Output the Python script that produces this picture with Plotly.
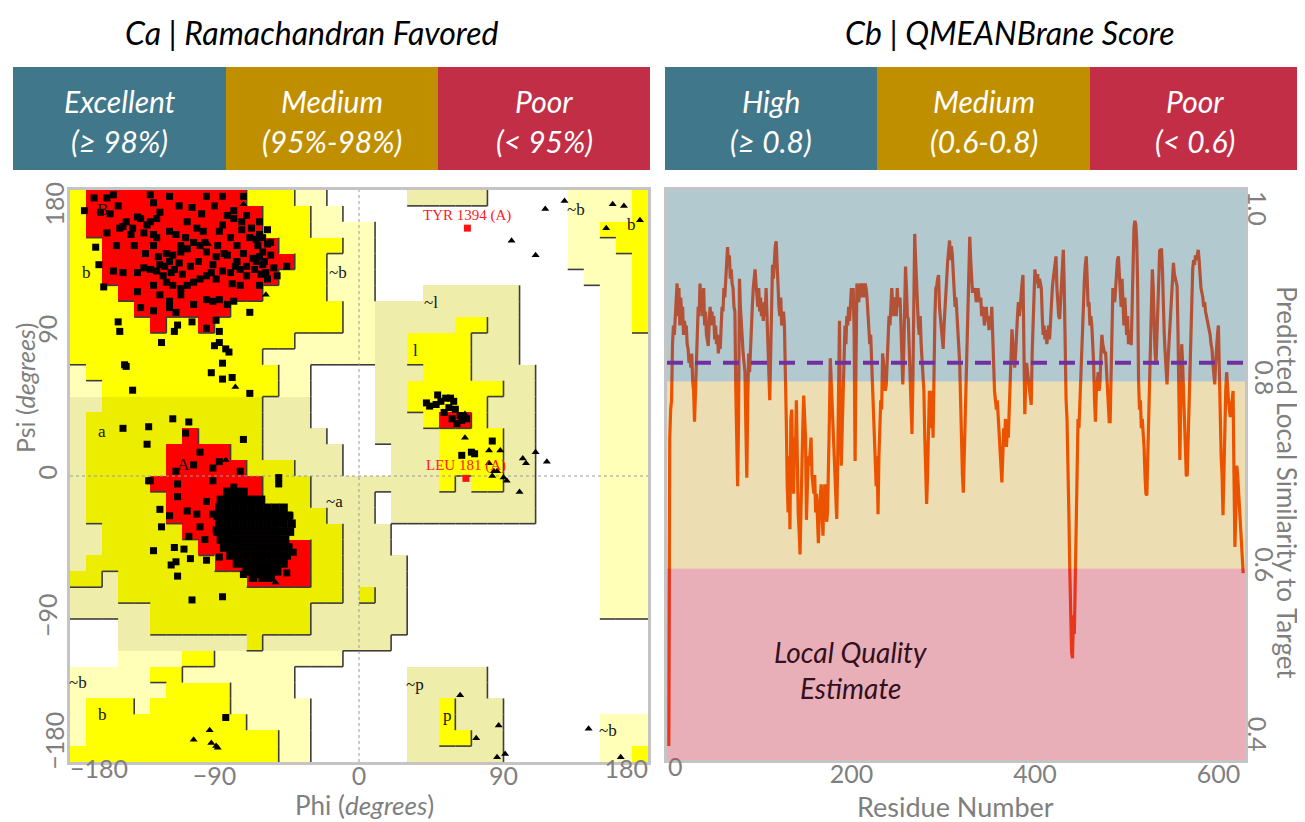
import plotly.graph_objects as go

OFF = 8                      # page body margin of the html output
W, H = 1305 - OFF, 822 - OFF

# ---------------- Panel Ca : Ramachandran plot ----------------
# 10-degree region grid; rows psi 180 -> -180, columns phi -180 -> 180
# '.' disallowed  'p' generous (~b)  'k' generous (~a ~l ~p)  'Y' allowed (b l p)  'y' allowed (a)  'R' core
rama_regions = [
    "YRRRRRRRRRRYYYpp.....kkkkk.....ppppY",
    "YRRRRRRRRRRRYYYpp..............ppppY",
    "YRRRRRRRRRRRYYYpppp............ppYYY",
    "YYRRRRRRRRRRRYYYYpp............pppYY",
    "YYRRRRRRRRRRRRYYppp............ppppY",
    "YYRRRRRRRRRRRYYYppp.............pppY",
    "YYYRRRRRRRRRYYYYppp...kkkkkk.....ppY",
    "YYYYRRRRRRYYYYYYYppkkkkkkkkk.....ppY",
    "YYYYYRYYRYYYYYYYYppkkkkkYYkk.....ppY",
    "YYYYYYYYYYYYYYpppppkkYYYYkkk.....ppp",
    "YYYYYYYYYYYYpppppppkkYYYYkkk.....ppp",
    "pYYYYYYYYYYYYpp....kkkYYYkkkk....ppp",
    "ppYYYYYYYYYYYpp....kkYYYYYYkk....ppp",
    "kkyyyyyyyyyykkk....kkYYYYYkkk....ppp",
    "kyyyyyyyyyyykkk....kkkYRRYkkk....ppp",
    "kyyyyyyRyyyykkkk...kkkkYYYYkk....ppp",
    "kyyyyyRRRRyykkkkk...kkkYYYYkk....ppp",
    "kyyyyyRRRRRyyykkk...kkkYYYYkk....ppp",
    "kyyyyRRRRRRRyyykkkkkkkkYkYYkk....ppp",
    "kyyyyyRRRRRRyyykkkk.kkkkkkkkk....ppp",
    "kyyyyyRRRRRRRyyykkk.kkkkkkkkk....ppp",
    "kkyyyyyRRRRRRyyyykkk.............ppp",
    "kkyyyyyyRRRRRRRyykkk.............ppp",
    "kyyyyyyyyRRRRRRyykkkk............ppp",
    "yykyyyyyyyyRRRRyykkkk............ppp",
    "kkkyyyyyyyyyyyyyykykk............ppp",
    "kkkkkyyyyyyyyyykkkkkk............ppp",
    "...kkyyyyyyyyyykkkkkk...............",
    "...kkkkkkkkykkkkkkkk................",
    "...ppppYYpppppppp...................",
    "pppppYYppppppp.......kkkkk..........",
    "ppppppYYYYpppp.......kkkkk..........",
    "pYYYpYYYYYppppp......kkYkkk.........",
    "pYYYYYYYYYYpppp......kkYkkk......ppp",
    "pYYYYYYYYYYYYpp......kkYYkk......ppp",
    "YYYYYYYYYYYYYpp......kkkkkk......ppY",
]
region_colors = {".": "#FFFFFF", "p": "#FFFFB8", "k": "#EFEDAA", "Y": "#FFFF00", "y": "#EDED00", "R": "#FF0000"}
region_rank = {".": 0, "p": 1, "k": 1, "Y": 2, "y": 2, "R": 3}

# residues (phi, psi) - non-glycine squares
b_region_pts = [
    (-157,175),(-153,177),(-130,177),(-128,172),(-118,176),(-95,176),(-85,176),(-72,176),(-104,169),(-78,167),
    (-171,167),(-161,166),(-155,165),(-138,163),(-136,162),(-126,162),(-124,166),(-132,158),(-130,160),(-147,157),
    (-149,156),(-141,156),(-142,152),(-134,153),(-128,152),(-126,150),(-118,154),(-114,152),(-111,145),(-101,156),
    (-97,154),(-87,154),(-85,158),(-82,164),(-78,162),(-73,160),(-70,164),(-62,160),(-57,155),(-62,152),
    (-60,150),(-64,149),(-57,146),(-60,141),(-55,139),(-62,138),(-64,135),(-60,133),(-53,131),(-45,132),
    (-51,126),(-57,124),(-62,120),(-70,126),(-74,130),(-76,135),(-82,139),(-89,138),(-91,133),(-95,141),
    (-99,145),(-103,147),(-107,143),(-111,141),(-116,139),(-118,135),(-124,133),(-126,129),(-130,130),(-134,131),
    (-138,128),(-122,126),(-120,122),(-116,120),(-111,118),(-107,120),(-103,122),(-99,124),(-95,126),(-89,124),
    (-85,129),(-79,121),(-74,120),(-111,114),(-118,110),(-124,114),(-128,120),(-136,106),(-128,104),(-118,106),
    (-114,103),(-103,108),(-95,111),(-91,110),(-87,111),(-82,108),(-78,110),(-68,103),(-138,116),(-153,129),
    (-147,128),(-151,145),(-164,144),(-162,133),(-159,119),(-157,153),(-150,97),(-149,91),(-123,84),(-113,95),
    (-115,91),(-104,97),(-95,93),(-89,98),(-87,91),(-90,82),(-87,84),(-83,80),(-81,78),(-85,71),
    (-92,65),(-85,61),(-79,62),(-68,52),(-141,54),(-146,70),(-145,69),
    (-115,130),(-110,127),(-105,132),(-100,135),(-120,140),(-108,150),(-96,147),(-92,128),(-88,145),(-84,140),
    (-80,150),(-76,145),(-72,140),(-68,150),(-66,137),(-65,130),(-63,145),(-67,156),(-58,128),(-55,147),
    (-59,135),(-61,127),(-70,132),(-73,155),(-80,128),(-77,132),(-112,134),(-117,128),(-121,132),(-125,138),
    (-128,145),(-133,140),(-140,145),(-145,160),(-150,170),(-165,175),(-107,160),(-98,165),(-90,170),(-112,170),
]
a_region_pts = [
    (-147,30),(-131,31),(-132,20),(-116,36),(-106,34),(-108,27),(-72,23),(-87,9),(-99,15),(-103,7),
    (-114,3),(-91,5),(-74,3),(-50,-1),(-131,-3),
    (-124,-21),(-118,-25),(-123,-32),(-113,-13),(-107,-22),(-101,-24),(-95,-16),(-91,-24),(-96,-40),(-106,-38),
    (-115,-45),(-128,-47),(-109,-46),(-105,-52),(-114,-54),(-117,-56),(-113,-63),(-104,-78),(-85,-76),(-95,-53),
    (-87,-51),(-72,-62),(-62,-62),(-45,-61),(-43,-25),(-41,-48),(-49,-29),(-91,-3),(-82,-11),(-78,-7),
    (-74,-15),(-130,-3),(-113,-5),(-99,-32),(-89,-34),(-82,-36),(-78,-41),(-70,-45),(-62,-51),(-53,-49),
    (-50,-5),(-83,-152),
]
helix_core_pts = [
    (-82,-10),(-77,-10),(-72,-10),
    (-86,-15),(-81,-15),(-76,-15),(-71,-15),(-66,-15),(-61,-15),
    (-87,-20),(-82,-20),(-77,-20),(-72,-20),(-67,-20),(-62,-20),(-57,-20),(-52,-20),(-47,-20),
    (-88,-25),(-83,-25),(-78,-25),(-73,-25),(-68,-25),(-63,-25),(-58,-25),(-53,-25),(-48,-25),(-44,-25),
    (-87,-30),(-82,-30),(-77,-30),(-72,-30),(-67,-30),(-62,-30),(-57,-30),(-52,-30),(-47,-30),(-42,-30),
    (-88,-35),(-83,-35),(-78,-35),(-73,-35),(-68,-35),(-63,-35),(-58,-35),(-53,-35),(-48,-35),(-43,-35),
    (-86,-40),(-81,-40),(-76,-40),(-71,-40),(-66,-40),(-61,-40),(-56,-40),(-51,-40),(-46,-40),
    (-84,-45),(-79,-45),(-74,-45),(-69,-45),(-64,-45),(-59,-45),(-54,-45),(-49,-45),(-44,-45),
    (-80,-50),(-75,-50),(-70,-50),(-65,-50),(-60,-50),(-55,-50),(-50,-50),(-45,-50),
    (-76,-55),(-71,-55),(-66,-55),(-61,-55),(-56,-55),(-51,-55),(-47,-55),
    (-70,-60),(-65,-60),(-60,-60),(-55,-60),(-51,-60),
    (-66,-64),(-60,-64),(-55,-64),
]
l_region_pts = [
    (42,46),(44,44),(49,51),(51,47),(54,49),(57,49),(59,47),(56,43),(60,42),(63,38),
    (67,36),(61,33),(48,45),(53,40),(58,36),(64,35),(83,22),(64,13),(70,15),(72,14),
]
glycine_pts = [
    (-72,171),(-94,146),(-58,114),(-77,56),(-83,10),(-52,-67),(-93,-160),(-103,-166),(-92,-168),(-89,-170),(-88,-171),
    (66,39),(66,24),(81,16),(88,16),(81,8),(84,3),(86,3),(83,0),(90,-1),(92,-3),(102,11),(104,8),(110,15),(117,9),
    (116,168),(128,173),(95,148),(110,139),(154,156),(158,171),(165,170),(175,161),
    (100,-10),(63,-138),(87,-157),(73,-165),(86,-177),(91,-175),(143,-159),(163,-177),
]
flagged_names = ["TYR 1394 (A)", "LEU 181 (A)"]
flagged_phi = [67.5, 66.6]
flagged_psi = [156, -1.5]

region_label_text = ["B", "b", "~b", "a", "A", "~a", "~b", "b", "~l", "l", "~b", "b", "~p", "p", "~b"]
region_label_phi = [-160, -170, -13, -160, -109, -15, -175, -160, 45, 35, 135, 170, 35, 55, 155]
region_label_psi = [168, 128, 128, 28, 7, -16, -130, -150, 109, 79, 168, 158, -131, -151, -160]
rama_ticks = [-180, -90, 0, 90, 180]

# ---------------- Panel Cb : QMEANBrane local quality ----------------
score = [
    0.41, 0.74, 0.77, 0.78, 0.84, 0.86, 0.85, 0.87, 0.88, 0.905,
    0.87, 0.90, 0.86, 0.89, 0.87, 0.88, 0.85, 0.865, 0.855, 0.86,
    0.84, 0.835, 0.82, 0.825, 0.815, 0.83, 0.80, 0.79, 0.757, 0.79,
    0.84, 0.86, 0.88, 0.87, 0.905, 0.88, 0.89, 0.87, 0.90, 0.86,
    0.875, 0.85, 0.84, 0.838, 0.865, 0.88, 0.86, 0.875, 0.86, 0.87,
    0.845, 0.86, 0.84, 0.85, 0.83, 0.845, 0.835, 0.86, 0.88, 0.875,
    0.90, 0.89, 0.915, 0.92, 0.944, 0.925, 0.935, 0.91, 0.92, 0.905,
    0.90, 0.88, 0.875, 0.79, 0.72, 0.688, 0.76, 0.91, 0.88, 0.86,
    0.85, 0.83, 0.82, 0.81, 0.75, 0.697, 0.78, 0.83, 0.81, 0.84,
    0.86, 0.88, 0.90, 0.91, 0.92, 0.905, 0.89, 0.88, 0.90, 0.875,
    0.89, 0.87, 0.88, 0.865, 0.885, 0.87, 0.90, 0.87, 0.845, 0.82,
    0.78, 0.83, 0.88, 0.925, 0.91, 0.93, 0.945, 0.95, 0.92, 0.90,
    0.88, 0.87, 0.89, 0.86, 0.87, 0.875, 0.86, 0.82, 0.76, 0.69,
    0.66, 0.72, 0.642, 0.76, 0.77, 0.70, 0.68, 0.74, 0.72, 0.78,
    0.70, 0.66, 0.64, 0.615, 0.66, 0.72, 0.75, 0.785, 0.76, 0.74,
    0.652, 0.70, 0.72, 0.71, 0.73, 0.74, 0.70, 0.69, 0.68, 0.70,
    0.66, 0.68, 0.65, 0.627, 0.66, 0.68, 0.69, 0.66, 0.635, 0.68,
    0.69, 0.67, 0.65, 0.66, 0.70, 0.76, 0.825, 0.80, 0.77, 0.76,
    0.73, 0.71, 0.68, 0.653, 0.71, 0.78, 0.865, 0.75, 0.71, 0.75,
    0.80, 0.83, 0.86, 0.84, 0.87, 0.86, 0.88, 0.865, 0.89, 0.90,
    0.88, 0.90, 0.85, 0.715, 0.82, 0.905, 0.89, 0.885, 0.90, 0.905,
    0.89, 0.905, 0.90, 0.89, 0.905, 0.90, 0.89, 0.87, 0.86, 0.84,
    0.85, 0.82, 0.80, 0.78, 0.74, 0.71, 0.688, 0.72, 0.658, 0.72,
    0.77, 0.78, 0.77, 0.83, 0.82, 0.80, 0.79, 0.797, 0.82, 0.85,
    0.87, 0.86, 0.88, 0.90, 0.88, 0.87, 0.885, 0.89, 0.87, 0.90,
    0.88, 0.885, 0.89, 0.86, 0.82, 0.797, 0.83, 0.88, 0.923, 0.90,
    0.87, 0.867, 0.83, 0.79, 0.77, 0.744, 0.80, 0.90, 0.958, 0.93,
    0.90, 0.87, 0.86, 0.85, 0.87, 0.84, 0.82, 0.815, 0.79, 0.74,
    0.69, 0.669, 0.70, 0.76, 0.79, 0.75, 0.77, 0.79, 0.74, 0.82,
    0.87, 0.90, 0.902, 0.91, 0.914, 0.88, 0.867, 0.85, 0.84, 0.835,
    0.86, 0.88, 0.90, 0.91, 0.93, 0.94, 0.951, 0.93, 0.945, 0.935,
    0.92, 0.90, 0.88, 0.89, 0.87, 0.86, 0.84, 0.82, 0.78, 0.72,
    0.70, 0.681, 0.72, 0.78, 0.80, 0.85, 0.90, 0.93, 0.955, 0.93,
    0.91, 0.895, 0.90, 0.895, 0.90, 0.885, 0.89, 0.90, 0.89, 0.885,
    0.89, 0.87, 0.88, 0.875, 0.86, 0.87, 0.88, 0.865, 0.87, 0.855,
    0.87, 0.86, 0.88, 0.85, 0.80, 0.79, 0.78, 0.77, 0.78, 0.76,
    0.75, 0.73, 0.70, 0.692, 0.72, 0.75, 0.74, 0.76, 0.73, 0.75,
    0.74, 0.77, 0.80, 0.84, 0.856, 0.84, 0.83, 0.815, 0.83, 0.86,
    0.87, 0.885, 0.87, 0.88, 0.90, 0.905, 0.914, 0.84, 0.765, 0.80,
    0.82, 0.81, 0.80, 0.79, 0.785, 0.775, 0.83, 0.87, 0.90, 0.92,
    0.91, 0.905, 0.915, 0.90, 0.91, 0.905, 0.90, 0.87, 0.85, 0.86,
    0.845, 0.855, 0.84, 0.85, 0.86, 0.845, 0.87, 0.89, 0.90, 0.91,
    0.92, 0.925, 0.934, 0.90, 0.88, 0.87, 0.867, 0.89, 0.91, 0.93,
    0.941, 0.90, 0.83, 0.78, 0.76, 0.72, 0.66, 0.60, 0.55, 0.51,
    0.504, 0.55, 0.53, 0.58, 0.66, 0.72, 0.76, 0.75, 0.78, 0.81,
    0.84, 0.867, 0.89, 0.91, 0.925, 0.934, 0.91, 0.88, 0.885, 0.86,
    0.87, 0.86, 0.84, 0.82, 0.78, 0.757, 0.79, 0.80, 0.81, 0.79,
    0.80, 0.83, 0.85, 0.84, 0.835, 0.83, 0.832, 0.81, 0.79, 0.77,
    0.757, 0.757, 0.82, 0.87, 0.90, 0.89, 0.885, 0.90, 0.92, 0.93,
    0.934, 0.92, 0.90, 0.88, 0.91, 0.87, 0.86, 0.89, 0.86, 0.85,
    0.87, 0.84, 0.855, 0.85, 0.839, 0.88, 0.93, 0.965, 0.972, 0.968,
    0.95, 0.90, 0.80, 0.77, 0.78, 0.75, 0.76, 0.744, 0.73, 0.70,
    0.68, 0.678, 0.72, 0.75, 0.779, 0.83, 0.88, 0.92, 0.90, 0.86,
    0.83, 0.818, 0.85, 0.89, 0.92, 0.94, 0.941, 0.941, 0.92, 0.867,
    0.85, 0.83, 0.81, 0.797, 0.82, 0.84, 0.85, 0.88, 0.90, 0.92,
    0.927, 0.915, 0.91, 0.905, 0.902, 0.85, 0.78, 0.716, 0.78, 0.84,
    0.82, 0.79, 0.76, 0.73, 0.70, 0.699, 0.74, 0.77, 0.797, 0.85,
    0.90, 0.92, 0.93, 0.925, 0.935, 0.93, 0.935, 0.941, 0.93, 0.91,
    0.90, 0.895, 0.89, 0.88, 0.885, 0.875, 0.87, 0.865, 0.86, 0.855,
    0.85, 0.84, 0.835, 0.82, 0.81, 0.797, 0.82, 0.84, 0.85, 0.86,
    0.80, 0.75, 0.72, 0.70, 0.657, 0.70, 0.76, 0.79, 0.81, 0.79,
    0.78, 0.77, 0.762, 0.77, 0.78, 0.79, 0.70, 0.623, 0.66, 0.71,
    0.70, 0.68, 0.66, 0.65, 0.63, 0.61, 0.595,
]
residue = list(range(1, len(score) + 1))
global_score = 0.82
band_limits = [0.6, 0.8]  # poor < 0.6 <= medium < 0.8 <= high
residue_ticks = [0, 200, 400, 600]
score_ticks = [0.4, 0.6, 0.8, 1.0]

# ---------------- header bands ----------------
panel_titles = ["Ca | Ramachandran Favored", "Cb | QMEANBrane Score"]
rama_classes = [("Excellent", "(≥ 98%)"), ("Medium", "(95%-98%)"), ("Poor", "(&lt; 95%)")]
qmean_classes = [("High", "(≥ 0.8)"), ("Medium", "(0.6-0.8)"), ("Poor", "(&lt; 0.6)")]
class_colors = ["#41778A", "#BF8F00", "#C22E46"]

FONT = "Lato, 'Open Sans', sans-serif"
GREY = "#7F7F7F"


def fx(px):
    return (px - OFF) / W


def fy(py):
    return 1 - (py - OFF) / H


def note(x, y, text, size, color, family=FONT, angle=0, xref="paper", yref="paper"):
    return dict(x=x, y=y, xref=xref, yref=yref, text=text, showarrow=False, textangle=angle,
                xanchor="center", yanchor="middle", font=dict(family=family, size=size, color=color))


fig = go.Figure()

# Ramachandran regions
code = {".": 0, "p": 1, "k": 2, "Y": 3, "y": 4, "R": 5}
order = [".", "p", "k", "Y", "y", "R"]
cs = []
for i, ch in enumerate(order):
    cs.append([i / 6, region_colors[ch]])
    cs.append([(i + 1) / 6, region_colors[ch]])
grid = [row[:36].ljust(36, ".") for row in rama_regions]
fig.add_trace(go.Heatmap(
    x=[-175 + 10 * c for c in range(36)], y=[175 - 10 * r for r in range(36)],
    z=[[code[ch] for ch in row] for row in grid],
    colorscale=cs, zmin=-0.5, zmax=5.5, showscale=False, hoverinfo="skip",
    xaxis="x", yaxis="y"))

# region borders (drawn on right / lower edge of the higher-ranked region)
bx, by = [], []
for r in range(36):
    for c in range(35):
        if region_rank[grid[r][c]] > region_rank[grid[r][c + 1]]:
            xv = -180 + 10 * (c + 1)
            bx += [xv, xv, None]
            by += [180 - 10 * r, 170 - 10 * r, None]
for r in range(35):
    for c in range(36):
        if region_rank[grid[r][c]] > region_rank[grid[r + 1][c]]:
            yv = 170 - 10 * r
            bx += [-180 + 10 * c, -170 + 10 * c, None]
            by += [yv, yv, None]
fig.add_trace(go.Scatter(x=bx, y=by, mode="lines", line=dict(color="#3C3C3C", width=1.6),
                         hoverinfo="skip", xaxis="x", yaxis="y"))

# dotted zero lines
fig.add_trace(go.Scatter(x=[0, 0, None, -180, 180], y=[-180, 180, None, 0, 0], mode="lines",
                         line=dict(color="#9A9A9A", width=1, dash="dot"), hoverinfo="skip",
                         xaxis="x", yaxis="y"))

sq = b_region_pts + a_region_pts + l_region_pts
fig.add_trace(go.Scatter(x=[p[0] for p in sq], y=[p[1] for p in sq], mode="markers",
                         marker=dict(symbol="square", size=7, color="black"), xaxis="x", yaxis="y"))
fig.add_trace(go.Scatter(x=[p[0] for p in helix_core_pts], y=[p[1] for p in helix_core_pts], mode="markers",
                         marker=dict(symbol="square", size=8.5, color="black"), xaxis="x", yaxis="y"))
fig.add_trace(go.Scatter(x=[p[0] for p in glycine_pts], y=[p[1] for p in glycine_pts], mode="markers",
                         marker=dict(symbol="triangle-up", size=7, color="black"), xaxis="x", yaxis="y"))
fig.add_trace(go.Scatter(x=flagged_phi, y=flagged_psi, mode="markers",
                         marker=dict(symbol="square", size=7, color="#FF1010"), xaxis="x", yaxis="y"))

# QMEAN line
fig.add_trace(go.Scatter(x=residue, y=score, mode="lines", line=dict(color="#FF3A00", width=3.2),
                         xaxis="x2", yaxis="y2"))

# empty traces so the end-tick label axes are drawn
for xa, ya in [("x3", "y"), ("x4", "y"), ("x", "y3"), ("x", "y4"), ("x5", "y2"), ("x2", "y5"), ("x2", "y6")]:
    fig.add_trace(go.Scatter(x=[], y=[], xaxis=xa, yaxis=ya, hoverinfo="skip"))

annotations = []
shapes = []

# region labels
for t, px_, py_ in zip(region_label_text, region_label_phi, region_label_psi):
    annotations.append(note(px_, py_, t, 17, "#151515", family="Liberation Serif", xref="x", yref="y"))
for name, px_, py_ in zip(flagged_names, flagged_phi, flagged_psi):
    annotations.append(note(px_, py_ + 8, name, 15, "#FF2020", family="Liberation Serif", xref="x", yref="y"))

# QMEAN bands (semi-transparent, over the line)
y2min, y2max = 0.395, 1.005
for (lo, hi), col, op in zip([(y2min, band_limits[0]), (band_limits[0], band_limits[1]), (band_limits[1], y2max)],
                             [class_colors[2], class_colors[1], class_colors[0]], [0.38, 0.3, 0.4]):
    shapes.append(dict(type="rect", xref="x2 domain", yref="y2", x0=0, x1=1, y0=lo, y1=hi,
                       fillcolor=col, opacity=op, line=dict(width=0), layer="above"))
shapes.append(dict(type="line", xref="x2 domain", yref="y2", x0=0, x1=1, y0=global_score, y1=global_score,
                   line=dict(color="#7030A0", width=4, dash="16px,12px"), layer="above"))
annotations.append(note(fx(850), fy(652), "<i>Local Quality</i>", 28, "#33101C"))
annotations.append(note(fx(850), fy(688), "<i>Estimate</i>", 28, "#33101C"))

# header titles and class boxes
for title, cx in zip(panel_titles, [312, 1010]):
    annotations.append(note(fx(cx), fy(32), "<i>" + title + "</i>", 32, "black"))
for edges, classes in [([13, 226, 438, 650], rama_classes), ([665, 877, 1090, 1300], qmean_classes)]:
    for i, (l1, l2) in enumerate(classes):
        shapes.append(dict(type="rect", xref="paper", yref="paper", x0=fx(edges[i]), x1=fx(edges[i + 1]),
                           y0=fy(170), y1=fy(67), fillcolor=class_colors[i], line=dict(width=0)))
        cx = (edges[i] + edges[i + 1]) / 2
        annotations.append(note(fx(cx), fy(101), "<i>" + l1 + "</i>", 30, "white"))
        annotations.append(note(fx(cx), fy(141), "<i>" + l2 + "</i>", 30, "white"))

# axis titles
annotations.append(note(fx(364), fy(805), "Phi (<i>degrees</i>)", 26, GREY))
annotations.append(note(fx(25), fy(388), "Psi (<i>degrees</i>)", 25, GREY, angle=-90))
annotations.append(note(fx(955), fy(806), "Residue Number", 27, GREY))
annotations.append(note(fx(1287), fy(482), "Predicted Local Similarity to Target", 26, GREY, angle=90))

base = dict(showgrid=False, zeroline=False, ticks="", automargin=False,
            tickfont=dict(family=FONT, size=25, color=GREY))
frame = dict(showline=True, mirror=True, linecolor="#C4C4C4", linewidth=2.5)
bare = dict(showline=False)

dom_x1, dom_y1 = [fx(70), fx(648)], [fy(762), fy(190)]
dom_x2, dom_y2 = [fx(667), fx(1245)], [fy(760), fy(190)]
XSO = -10

fig.update_layout(
    width=W, height=H, margin=dict(l=0, r=0, t=0, b=0, autoexpand=False),
    paper_bgcolor="white", plot_bgcolor="white", showlegend=False,
    # Ramachandran axes (inner ticks centred; end ticks aligned inward)
    xaxis=dict(domain=dom_x1, range=[-180, 180], tickvals=rama_ticks[1:-1], anchor="y",
               ticklabelstandoff=XSO, **base, **frame),
    xaxis3=dict(domain=dom_x1, range=[-180, 180], tickvals=rama_ticks[:1], anchor="y", overlaying="x",
                ticklabelposition="outside right", ticklabelstandoff=XSO, **base, **bare),
    xaxis4=dict(domain=dom_x1, range=[-180, 180], tickvals=rama_ticks[-1:], anchor="y", overlaying="x",
                ticklabelposition="outside left", ticklabelstandoff=XSO, **base, **bare),
    yaxis=dict(domain=dom_y1, range=[-180, 180], tickvals=rama_ticks[1:-1], tickangle=-90, anchor="x",
               **base, **frame),
    yaxis3=dict(domain=dom_y1, range=[-180, 180], tickvals=rama_ticks[-1:], tickangle=-90, anchor="x",
                overlaying="y", ticklabelposition="outside bottom", **base, **bare),
    yaxis4=dict(domain=dom_y1, range=[-180, 180], tickvals=rama_ticks[:1], tickangle=-90, anchor="x",
                overlaying="y", ticklabelposition="outside top", **base, **bare),
    # QMEAN axes
    xaxis2=dict(domain=dom_x2, range=[-1, 629], tickvals=residue_ticks[1:], anchor="y2",
                ticklabelstandoff=XSO, **base, **frame),
    xaxis5=dict(domain=dom_x2, range=[-1, 629], tickvals=residue_ticks[:1], anchor="y2", overlaying="x2",
                ticklabelposition="outside right", ticklabelstandoff=XSO, **base, **bare),
    yaxis2=dict(domain=dom_y2, range=[y2min, y2max], tickvals=score_ticks[1:-1], ticktext=["0.6", "0.8"],
                tickangle=90, side="right", anchor="x2", ticklabelstandoff=-3, **base, **frame),
    yaxis5=dict(domain=dom_y2, range=[y2min, y2max], tickvals=score_ticks[-1:], ticktext=["1.0"],
                tickangle=90, side="right", anchor="x2", overlaying="y2", ticklabelposition="outside bottom",
                ticklabelstandoff=-3, **base, **bare),
    yaxis6=dict(domain=dom_y2, range=[y2min, y2max], tickvals=score_ticks[:1], ticktext=["0.4"],
                tickangle=90, side="right", anchor="x2", overlaying="y2", ticklabelposition="outside top",
                ticklabelstandoff=-3, **base, **bare),
    annotations=annotations, shapes=shapes,
)

fig.write_html("out.html")
